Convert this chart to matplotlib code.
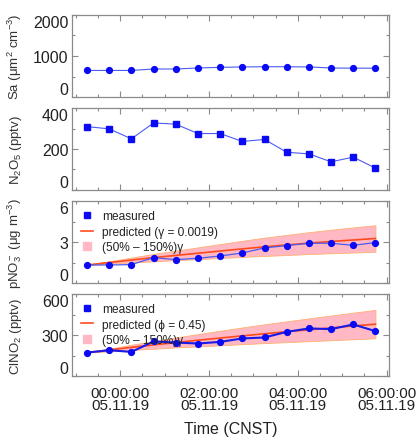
import matplotlib
matplotlib.use("Agg")
import matplotlib.pyplot as plt
import matplotlib.dates as mdates
from matplotlib.lines import Line2D
import pandas as pd

plt.rcParams['font.family'] = ['Liberation Sans', 'DejaVu Sans']
plt.rcParams['mathtext.fontset'] = 'custom'
plt.rcParams['mathtext.rm'] = 'Liberation Sans'
plt.rcParams['mathtext.it'] = 'Liberation Sans'

# sampling times (every 30 min)
times = ['2019-11-04 23:15', '2019-11-04 23:45', '2019-11-05 00:15', '2019-11-05 00:45',
         '2019-11-05 01:15', '2019-11-05 01:45', '2019-11-05 02:15', '2019-11-05 02:45',
         '2019-11-05 03:15', '2019-11-05 03:45', '2019-11-05 04:15', '2019-11-05 04:45',
         '2019-11-05 05:15', '2019-11-05 05:45']

sa = [650, 650, 650, 685, 685, 710, 725, 735, 740, 740, 735, 710, 705, 705]
n2o5 = [310, 299, 250, 328, 322, 276, 276, 237, 247, 184, 176, 137, 160, 106]

pno3_meas = [1.34, 1.34, 1.37, 1.88, 1.73, 1.83, 2.00, 2.22, 2.59, 2.76, 2.93, 2.93, 2.78, 2.98]
pno3_pred = [1.34, 1.52, 1.70, 1.88, 2.04, 2.20, 2.36, 2.52, 2.67, 2.81, 2.94, 3.06, 3.17, 3.28]
pno3_hi = [1.34, 1.61, 1.88, 2.15, 2.39, 2.63, 2.87, 3.11, 3.34, 3.54, 3.74, 3.92, 4.09, 4.25]
pno3_lo = [1.34, 1.43, 1.52, 1.61, 1.69, 1.77, 1.85, 1.93, 2.00, 2.07, 2.14, 2.20, 2.25, 2.31]

clno2_meas = [173, 190, 178, 254, 246, 239, 251, 276, 283, 324, 349, 344, 378, 329]
clno2_pred = [173, 192, 211, 229, 246, 263, 279, 295, 310, 325, 339, 353, 367, 380]
clno2_hi = [173, 201, 230, 257, 282, 308, 332, 356, 379, 401, 422, 443, 464, 484]
clno2_lo = [173, 182, 192, 201, 210, 218, 226, 234, 242, 249, 256, 263, 270, 277]

t = pd.to_datetime(times)

BLUE = '#0a0af5'
LBLUE = '#4a5cf0'
ORANGE = '#ff4a1c'
PINK = '#ffb8c4'
FRAME = '#8a8a8a'

fig = plt.figure(figsize=(4.17, 4.39), dpi=100)
W, H = 417, 439
left, right = 72 / W, 389 / W
tops = [15.7, 109.3, 202.3, 295.0]
bots = [98.3, 190.7, 284.3, 377.3]
axes = []
for tp, bt in zip(tops, bots):
    ax = fig.add_axes([left, 1 - bt / H, right - left, (bt - tp) / H])
    axes.append(ax)

ylims = [(0, 2000), (0, 400), (0, 6), (0, 600)]
yticks = [[0, 1000, 2000], [0, 200, 400], [0, 3, 6], [0, 300, 600]]
ylabels = [r'Sa ($\mu$m$^2$ cm$^{-3}$)', r'N$_2$O$_5$ (pptv)',
           r'pNO$_3^-$ ($\mu$g m$^{-3}$)', r'ClNO$_2$ (pptv)']

ax1, ax2, ax3, ax4 = axes
ax1.plot(t, sa, '-', color=LBLUE, lw=0.8)
ax1.plot(t, sa, 'o', color=BLUE, ms=4.2)
ax2.plot(t, n2o5, '-', color=LBLUE, lw=0.8)
ax2.plot(t, n2o5, 's', color=BLUE, ms=4.0)

ax3.fill_between(t, pno3_lo, pno3_hi, facecolor=PINK, edgecolor='#ffb070', lw=0.6, zorder=1)
ax3.plot(t, pno3_pred, '-', color=ORANGE, lw=1.2, zorder=2)
ax3.plot(t, pno3_meas, '-', color=LBLUE, lw=0.9, zorder=3)
ax3.plot(t, pno3_meas, 'o', color=BLUE, ms=4.2, zorder=4)

ax4.fill_between(t, clno2_lo, clno2_hi, facecolor=PINK, edgecolor='#ffb070', lw=0.6, zorder=1)
ax4.plot(t, clno2_pred, '-', color=ORANGE, lw=1.2, zorder=2)
ax4.plot(t, clno2_meas, '-', color='#1a1ae8', lw=1.5, zorder=3)
ax4.plot(t, clno2_meas, 'o', color=BLUE, ms=4.2, zorder=4)

x0 = pd.Timestamp('2019-11-04 22:54:40')
x1 = pd.Timestamp('2019-11-05 06:03:20')

for ax, yl, yt, lab in zip(axes, ylims, yticks, ylabels):
    ax.set_xlim(x0, x1)
    ax.set_ylim(*yl)
    ax.set_yticks(yt)
    ax.set_yticks([yt[0] + (yt[1] - yt[0]) / 2, yt[1] + (yt[2] - yt[1]) / 2], minor=True)
    ax.xaxis.set_major_locator(mdates.HourLocator(byhour=[0, 2, 4, 6]))
    ax.xaxis.set_minor_locator(mdates.MinuteLocator(byminute=[0, 30]))
    ax.xaxis.set_major_formatter(mdates.DateFormatter('%H:%M:%S\n%d.%m.%y'))
    ax.tick_params(which='both', direction='in', top=True, right=True, color=FRAME,
                   labelcolor='#222222')
    ax.tick_params(which='major', length=4, width=0.8)
    ax.tick_params(which='minor', length=2.5, width=0.8)
    ax.tick_params(axis='y', pad=2.5, labelsize=11.5)
    for sp in ax.spines.values():
        sp.set_color(FRAME)
        sp.set_linewidth(0.9)
    ax.set_ylabel(lab, fontsize=9.5, color='#333333')
    ax.yaxis.set_label_coords(-0.15, 0.5)
    mt = ax.yaxis.get_major_ticks()
    mt[0].label1.set_va('bottom')
    mt[-1].label1.set_va('top')

for ax in axes[:3]:
    ax.tick_params(axis='x', labelbottom=False)

ax4.tick_params(axis='x', pad=7, labelsize=11)
for lbl in ax4.get_xticklabels():
    lbl.set_linespacing(0.85)
ax4.set_xlabel('Time (CNST)', fontsize=11.5, color='#222222', labelpad=6)


def add_legend(ax, pred_label):
    handles = [Line2D([], [], ls='none', marker='s', color=BLUE, ms=4),
               Line2D([], [], color=ORANGE, lw=1.2),
               Line2D([], [], ls='none', marker='s', color=PINK, ms=6)]
    labels = ['measured', pred_label, '(50% \u2013 150%)\u03b3']
    ax.legend(handles, labels, loc='upper left', frameon=False, fontsize=8.6,
              handlelength=1.0, handletextpad=0.8, labelspacing=0.3,
              borderaxespad=0.35, borderpad=0.4, labelcolor='#222222')


add_legend(ax3, 'predicted (\u03b3 = 0.0019)')
add_legend(ax4, 'predicted (\u03d5 = 0.45)')

fig.savefig('out.png', dpi=100)
